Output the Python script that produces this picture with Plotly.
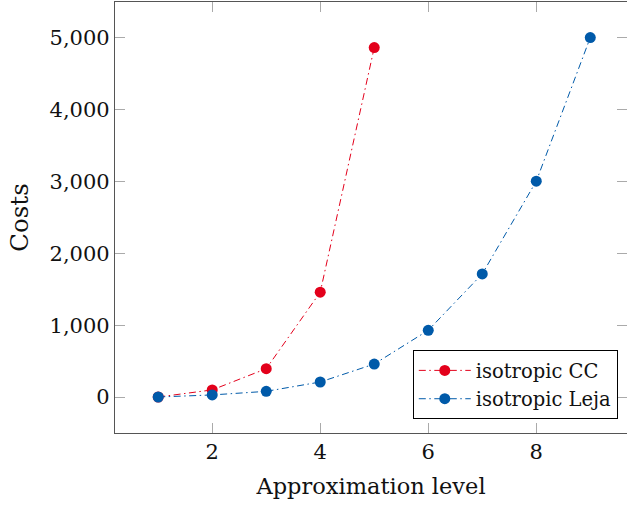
import plotly.graph_objects as go

# Cost of isotropic sparse grids per approximation level
levels_cc = [1, 2, 3, 4, 5]
costs_cc = [1, 100, 395, 1460, 4865]

levels_leja = [1, 2, 3, 4, 5, 6, 7, 8, 9]
costs_leja = [1, 30, 80, 210, 460, 930, 1715, 3005, 5005]

x_ticks = [2, 4, 6, 8]
y_ticks = [0, 1000, 2000, 3000, 4000, 5000]
y_tick_text = ["0", "1,000", "2,000", "3,000", "4,000", "5,000"]

RED = "#E3001B"
BLUE = "#005AA9"
FONT = "DejaVu Serif"
DASH = "7px,3.5px,1.5px,3.5px"

fig = go.Figure()
fig.add_trace(go.Scatter(
    x=levels_cc, y=costs_cc, mode="lines+markers", name="isotropic CC",
    line=dict(color=RED, width=1, dash=DASH),
    marker=dict(color=RED, size=11),
))
fig.add_trace(go.Scatter(
    x=levels_leja, y=costs_leja, mode="lines+markers", name="isotropic Leja",
    line=dict(color=BLUE, width=1, dash=DASH),
    marker=dict(color=BLUE, size=11),
))
# invisible trace on a right-side axis to carry the mirrored y ticks
fig.add_trace(go.Scatter(x=[None], y=[None], yaxis="y2", showlegend=False))

fig.update_layout(
    width=627, height=506,
    margin=dict(l=115, r=0, t=2, b=73),
    plot_bgcolor="white", paper_bgcolor="white",
    font=dict(family=FONT, size=21, color="#111111"),
    showlegend=True,
    legend=dict(
        x=0.982, y=0.032, xanchor="right", yanchor="bottom",
        bordercolor="black", borderwidth=1, bgcolor="white",
        font=dict(family=FONT, size=19.5, color="#111111"),
        itemwidth=52, tracegroupgap=0,
    ),
    xaxis=dict(
        range=[0.2, 9.68], tickvals=x_ticks,
        showgrid=False, zeroline=False,
        showline=True, linecolor="#555555", linewidth=1.2, mirror="ticks",
        ticks="inside", ticklen=10, tickcolor="#aaaaaa", tickwidth=1,
        tickfont=dict(family=FONT, size=21, color="#111111"),
        title=dict(text="Approximation level", standoff=14,
                   font=dict(family=FONT, size=22.5, color="#111111")),
    ),
    yaxis=dict(
        range=[-500, 5500], tickvals=y_ticks, ticktext=y_tick_text,
        showgrid=False, zeroline=False,
        showline=True, linecolor="#555555", linewidth=1.2,
        ticks="inside", ticklen=10, tickcolor="#aaaaaa", tickwidth=1,
        tickfont=dict(family=FONT, size=21, color="#111111"),
        title=dict(text="Costs", standoff=14,
                   font=dict(family=FONT, size=24.5, color="#111111")),
    ),
    yaxis2=dict(
        range=[-500, 5500], tickvals=y_ticks, overlaying="y", side="right",
        showgrid=False, zeroline=False, showline=False, showticklabels=False,
        ticks="inside", ticklen=10, tickcolor="#aaaaaa", tickwidth=1,
    ),
)

fig.write_html("out.html")
